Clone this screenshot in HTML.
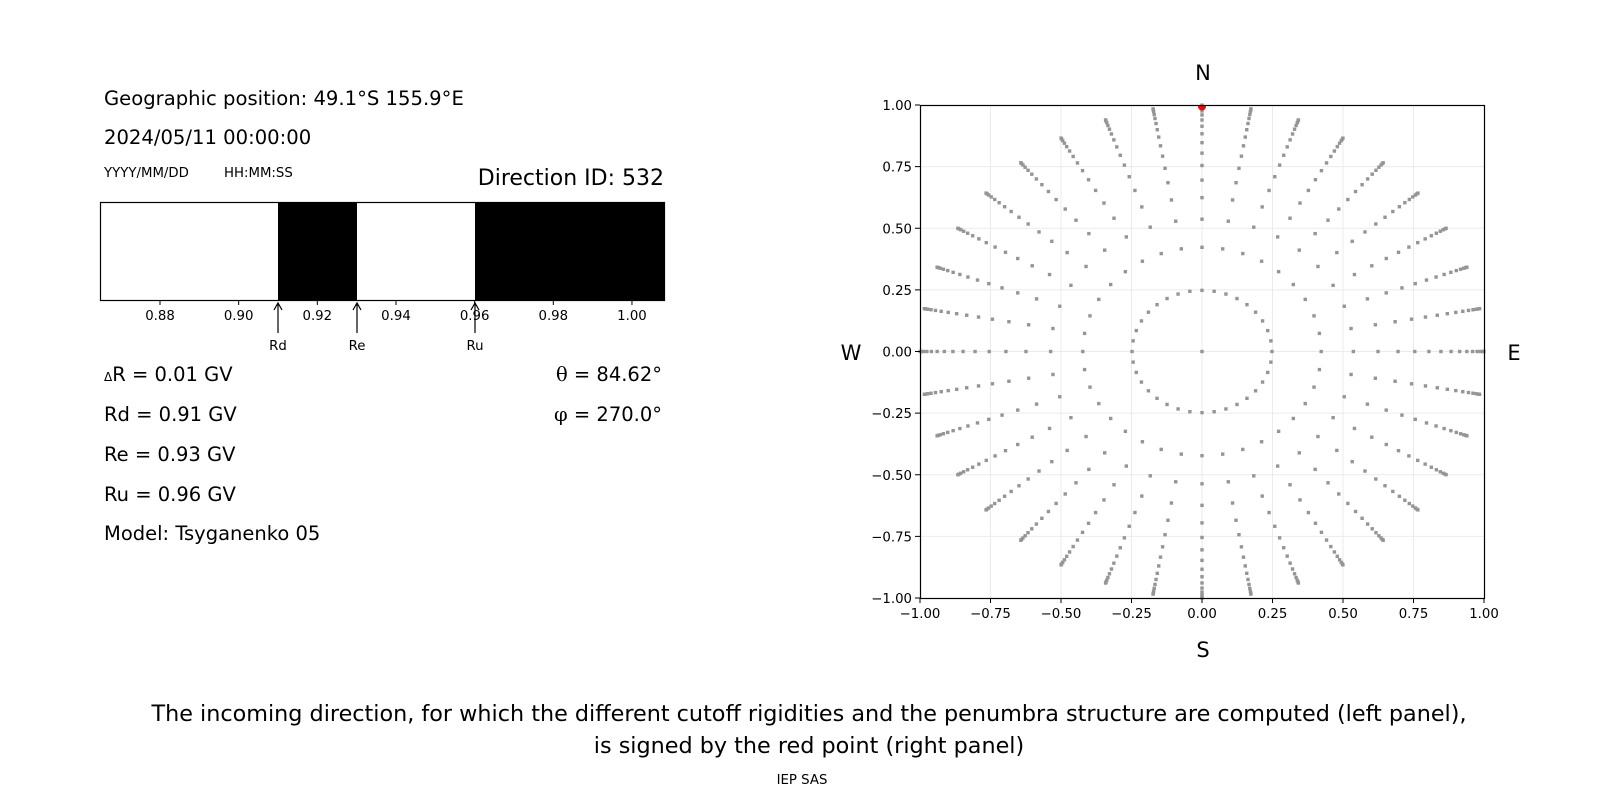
<!DOCTYPE html>
<html><head><meta charset="utf-8"><style>
html,body{margin:0;padding:0;background:#fff;}
svg{display:block;font-family:"DejaVu Sans","Liberation Sans",sans-serif;}
</style></head><body>
<svg id="s" width="1600" height="800" xmlns="http://www.w3.org/2000/svg">
<rect width="1600" height="800" fill="#fff"/>
<g font-size="19.6" fill="#000">
<text x="104" y="105">Geographic position: 49.1°S 155.9°E</text>
<text x="104" y="144">2024/05/11 00:00:00</text>
<text x="104" y="177" font-size="13.3">YYYY/MM/DD</text>
<text x="224" y="177" font-size="13.3">HH:MM:SS</text>
<text x="664" y="185" font-size="22" text-anchor="end">Direction ID: 532</text>
</g>
<rect x="100.5" y="202.5" width="564" height="98" fill="#fff" stroke="#000" stroke-width="1.2"/>
<rect x="278" y="203" width="79" height="97" fill="#000"/>
<rect x="475" y="203" width="189" height="97" fill="#000"/>
<g id="bt" font-size="13.3" text-anchor="middle"></g>
<g stroke="#000" stroke-width="1.2" fill="none">
<path d="M278 333V304M274 310L278 303L282 310"/>
<path d="M357 333V304M353 310L357 303L361 310"/>
<path d="M475 333V304M471 310L475 303L479 310"/>
</g>
<g font-size="13.3" text-anchor="middle">
<text x="278" y="350">Rd</text><text x="357" y="350">Re</text><text x="475" y="350">Ru</text>
</g>
<g font-size="19.5">
<text x="104" y="381"><tspan font-size="12">Δ</tspan>R = 0.01 GV</text>
<text x="104" y="421">Rd = 0.91 GV</text>
<text x="104" y="461">Re = 0.93 GV</text>
<text x="104" y="501">Ru = 0.96 GV</text>
<text x="104" y="540">Model: Tsyganenko 05</text>
<text x="662" y="381" text-anchor="end"><tspan font-family="DejaVu Serif, serif">θ</tspan> = 84.62°</text>
<text x="662" y="421" text-anchor="end"><tspan font-family="DejaVu Serif, serif">φ</tspan> = 270.0°</text>
</g>
<g id="grid" stroke="#ebebeb" stroke-width="1"></g>
<g id="dots" fill="#959595"></g>
<clipPath id="cp"><rect x="920" y="105" width="564" height="493"/></clipPath>
<circle cx="1202" cy="106.5" r="4" fill="#f00" clip-path="url(#cp)"/>
<rect x="920.5" y="105.5" width="564" height="493" fill="none" stroke="#000" stroke-width="1.2"/>
<g id="ax" font-size="13.3"></g>
<g font-size="21" text-anchor="middle">
<text x="1203" y="80">N</text><text x="1203" y="657">S</text>
<text x="851" y="360">W</text><text x="1514" y="360">E</text>
</g>
<g text-anchor="middle">
<text x="809" y="721" font-size="22.3">The incoming direction, for which the different cutoff rigidities and the penumbra structure are computed (left panel),</text>
<text x="809" y="753" font-size="22.3">is signed by the red point (right panel)</text>
<text x="802" y="784" font-size="13.3">IEP SAS</text>
</g>
</svg>
<script>
var NS="http://www.w3.org/2000/svg";
function el(p,t,a,txt){var e=document.createElementNS(NS,t);for(var k in a)e.setAttribute(k,a[k]);if(txt)e.textContent=txt;document.getElementById(p).appendChild(e);}
var bv=[0.88,0.90,0.92,0.94,0.96,0.98,1.00];
bv.forEach(function(v){var x=160+(v-0.88)*3933;el("bt","line",{x1:x,x2:x,y1:301,y2:305,stroke:"#000"});el("bt","text",{x:x,y:320},v.toFixed(2));});
function X(v){return 920+(v+1)*282;}function Y(v){return 351.5-v*246.5;}
for(var i=0;i<9;i++){var v=-1+i*0.25;var s=v.toFixed(2).replace("-","\u2212");
if(i>0&&i<8){el("grid","line",{x1:X(v),x2:X(v),y1:105,y2:598});el("grid","line",{x1:920,x2:1484,y1:Y(v),y2:Y(v)});}
el("ax","line",{x1:X(v),x2:X(v),y1:598,y2:603,stroke:"#000"});
el("ax","text",{x:X(v),y:618,"text-anchor":"middle"},s);
el("ax","line",{x1:915,x2:920,y1:Y(v),y2:Y(v),stroke:"#000"});
el("ax","text",{x:912,y:Y(v)+5,"text-anchor":"end"},s);}
el("dots","rect",{x:X(0)-1.7,y:Y(0)-1.7,width:3.4,height:3.4});
for(var k=1;k<=16;k++){var c=1-(2*k-1)/32;var r=Math.sqrt(1-c*c);
for(var j=0;j<36;j++){var a=j*10*Math.PI/180;var x=X(r*Math.sin(a)),y=Y(r*Math.cos(a));
el("dots","rect",{x:x-1.7,y:y-1.7,width:3.4,height:3.4});}}
</script>
</body></html>
